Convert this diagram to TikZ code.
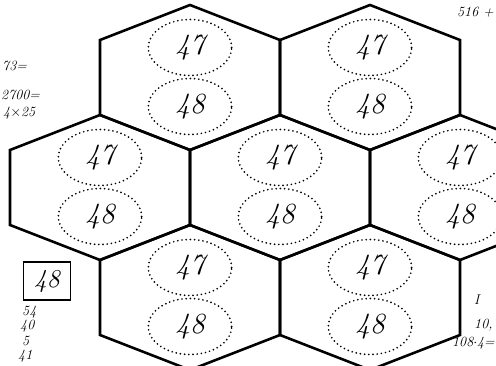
\documentclass[tikz,border=0pt]{standalone}
\usepackage{tikz}
\usetikzlibrary{shapes.geometric}

\begin{document}
\begin{tikzpicture}[
  x=0.03cm, y=-0.03cm,
  hexline/.style={line width=2.2pt, line join=miter, black},
  numoval/.style={ellipse, draw, line width=1.6pt, line cap=round,
    dash pattern=on 0pt off 3.6pt, minimum width=2.5cm, minimum height=1.68cm,
    inner sep=0pt, font=\fontsize{25}{25}\selectfont\itshape},
  note/.style={font=\fontsize{12}{12}\selectfont\itshape, inner sep=0pt},
]
\useasboundingbox (0,0) rectangle (496,366);
\clip (0,0) rectangle (496,366);

% honeycomb: two cells on top, three in the middle, two below
\foreach \cx/\cy/\hid in {190/77.5/ta, 370/77.5/tb,
    100/187.5/ma, 280/187.5/mb, 460/187.5/mc,
    190/297.5/ba, 370/297.5/bb} {
  \draw[hexline] (\cx,\cy-72.5) -- ++(90,35) -- ++(0,75) -- ++(-90,35)
    -- ++(-90,-35) -- ++(0,-75) -- cycle;
  \node[numoval] (\hid-top) at (\cx,\cy-30) {47};
  \node[numoval] (\hid-bot) at (\cx,\cy+29) {48};
}

% notes in the margins
\node[note, anchor=west] (n73) at (2,66) {73=};
\node[note, anchor=west] (n2700) at (1,95) {2700=};
\node[note, anchor=west] (n4x) at (3,113) {4$\times$25};
\node[draw, line width=1.2pt, minimum width=1.4cm, minimum height=1.15cm,
  font=\fontsize{22}{22}\selectfont\itshape] (boxed) at (47,281) {48};
\node[note, anchor=west] (n54) at (22,312) {54};
\node[note, anchor=west] (n40) at (20,326) {40};
\node[note, anchor=west] (n5) at (22,341) {5};
\node[note, anchor=west] (n41) at (18,356) {41};
\node[note, anchor=east] (n516) at (494,12) {516 +};
\node[note, anchor=west] (nI) at (474,300) {I};
\node[note, anchor=west] (n10) at (474,325) {10,};
\node[note, anchor=east] (n108) at (495,343) {108$\cdot$4=};
\end{tikzpicture}
\end{document}
